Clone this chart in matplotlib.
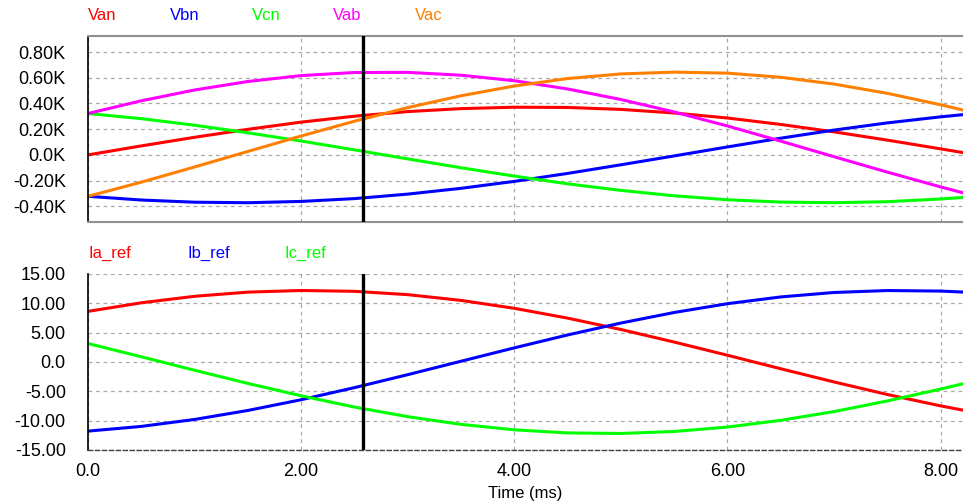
import numpy as np
import matplotlib.pyplot as plt

plt.rcParams['font.family'] = ['Liberation Sans', 'DejaVu Sans']

# time (ms)
t = [0.0, 0.5, 1.0, 1.5, 2.0, 2.5, 3.0, 3.5, 4.0, 4.5, 5.0, 5.5, 6.0, 6.5, 7.0, 7.5, 8.0, 8.21]

# voltages (K)
Van = [0.0, 0.070, 0.137, 0.199, 0.255, 0.301, 0.337, 0.360, 0.371, 0.369, 0.354, 0.326, 0.287, 0.237, 0.179, 0.115, 0.047, 0.018]
Vbn = [-0.322, -0.351, -0.368, -0.372, -0.362, -0.340, -0.305, -0.260, -0.206, -0.144, -0.077, -0.008, 0.062, 0.130, 0.193, 0.249, 0.296, 0.313]
Vcn = [0.322, 0.282, 0.231, 0.172, 0.108, 0.039, -0.031, -0.100, -0.165, -0.225, -0.276, -0.318, -0.349, -0.367, -0.372, -0.364, -0.343, -0.331]
Vab = [0.322, 0.421, 0.505, 0.571, 0.617, 0.641, 0.642, 0.620, 0.577, 0.513, 0.431, 0.334, 0.225, 0.107, -0.014, -0.134, -0.249, -0.295]
Vac = [-0.322, -0.212, -0.094, 0.027, 0.147, 0.262, 0.368, 0.460, 0.536, 0.594, 0.630, 0.644, 0.636, 0.604, 0.551, 0.479, 0.390, 0.349]

# reference currents
Ia_ref = [8.63, 10.09, 11.20, 11.91, 12.19, 12.05, 11.48, 10.50, 9.15, 7.48, 5.54, 3.40, 1.15, -1.15, -3.40, -5.54, -7.48, -8.21]
Ib_ref = [-11.78, -10.98, -9.79, -8.26, -6.43, -4.37, -2.16, 0.13, 2.41, 4.61, 6.64, 8.44, 9.94, 11.09, 11.85, 12.18, 12.09, 11.92]
Ic_ref = [3.15, 0.89, -1.41, -3.65, -5.76, -7.68, -9.32, -10.63, -11.56, -12.09, -12.18, -11.84, -11.09, -9.94, -8.45, -6.64, -4.61, -3.71]

cursor_t = 2.578

xticks = [0, 2, 4, 6, 8]
xticklabels = ['0.0', '2.00', '4.00', '6.00', '8.00']
v_ticks = [0.8, 0.6, 0.4, 0.2, 0.0, -0.2, -0.4]
v_ticklabels = ['0.80K', '0.60K', '0.40K', '0.20K', '0.0K', '-0.20K', '-0.40K']
i_ticks = [15, 10, 5, 0, -5, -10, -15]
i_ticklabels = ['15.00', '10.00', '5.00', '0.0', '-5.00', '-10.00', '-15.00']

W, H = 963, 504
fig = plt.figure(figsize=(W / 100, H / 100), dpi=100)
ax1 = fig.add_axes([88 / W, 1 - 222 / H, (W - 88) / W, (222 - 36) / H])
ax2 = fig.add_axes([88 / W, 1 - 450 / H, (W - 88) / W, (450 - 274) / H])

lw = 2.2
ax1.plot(t, Van, color='#ff0000', lw=lw)
ax1.plot(t, Vbn, color='#0000ff', lw=lw)
ax1.plot(t, Vcn, color='#00ff00', lw=lw)
ax1.plot(t, Vab, color='#ff00ff', lw=lw)
ax1.plot(t, Vac, color='#ff8000', lw=lw)

ax2.plot(t, Ia_ref, color='#ff0000', lw=lw)
ax2.plot(t, Ib_ref, color='#0000ff', lw=lw)
ax2.plot(t, Ic_ref, color='#00ff00', lw=lw)

for ax in (ax1, ax2):
    ax.axvline(cursor_t, color='black', lw=2.4, zorder=5)
    ax.set_xlim(0, 8.21)
    ax.set_xticks(xticks)
    ax.grid(True, color='#a8a8a8', linestyle=(0, (3, 3)), lw=0.9)
    ax.tick_params(length=0, labelsize=13, pad=16)
    ax.spines['left'].set_color('black')
    ax.spines['left'].set_linewidth(1.2)
    ax.spines['right'].set_visible(False)

ax1.set_ylim(-0.522, 0.925)
ax1.set_yticks(v_ticks)
ax1.set_yticklabels(v_ticklabels)
ax1.set_xticklabels([])
ax1.spines['top'].set_color('#909090')
ax1.spines['top'].set_linewidth(1.5)
ax1.spines['bottom'].set_color('#909090')
ax1.spines['bottom'].set_linewidth(1.5)

ax2.set_ylim(-15, 15)
ax2.set_yticks(i_ticks)
ax2.set_yticklabels(i_ticklabels)
ax2.set_xticklabels(xticklabels)
ax2.tick_params(axis='x', pad=9)
ax2.spines['top'].set_visible(False)
ax2.spines['bottom'].set_color('#404040')
ax2.spines['bottom'].set_linestyle((0, (3, 2)))
ax2.spines['bottom'].set_linewidth(1.0)
ax2.set_xlabel('Time (ms)', fontsize=12, labelpad=5)

# trace names
top_names = ['Van', 'Vbn', 'Vcn', 'Vab', 'Vac']
top_colors = ['#ff0000', '#0000ff', '#00ff00', '#ff00ff', '#ff8000']
top_x = [88, 170, 252, 333, 415]
for name, c, x in zip(top_names, top_colors, top_x):
    fig.text(x / W, 1 - 15 / H, name, color=c, fontsize=12, va='center', ha='left')

bot_names = ['Ia_ref', 'Ib_ref', 'Ic_ref']
bot_colors = ['#ff0000', '#0000ff', '#00ff00']
bot_x = [88, 187, 285]
for name, c, x in zip(bot_names, bot_colors, bot_x):
    fig.text(x / W, 1 - 253 / H, name, color=c, fontsize=12, va='center', ha='left')

plt.savefig('out.png', dpi=100)
